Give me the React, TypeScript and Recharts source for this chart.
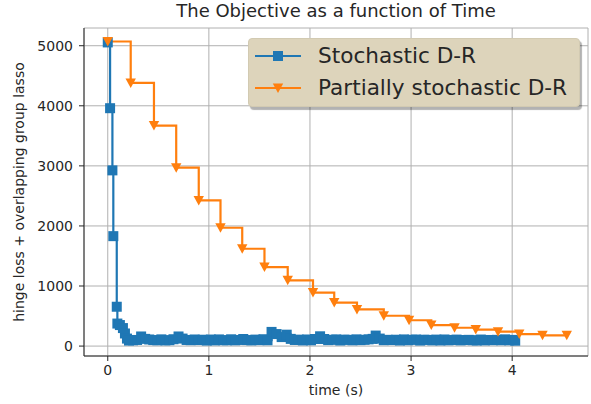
import { LineChart, Line, XAxis, YAxis, CartesianGrid } from 'recharts'

const BLUE = '#1f77b4'
const ORANGE = '#ff7f0e'
const INK = '#262626'
const FONT = '"DejaVu Sans", sans-serif'

const title = 'The Objective as a function of Time'
const xLabel = 'time (s)'
const yLabel = 'hinge loss + overlapping group lasso'
const seriesNames = ['Stochastic D-R', 'Partially stochastic D-R']

const xTicks = [0, 1, 2, 3, 4]
const yTicks = [0, 1000, 2000, 3000, 4000, 5000]

// Stochastic D-R: fast drop, then a long flat tail
const stochTime = [
  0, 0.023, 0.046, 0.055, 0.089, 0.095, 0.12, 0.15, 0.17, 0.19,
  0.21, 0.25, 0.29, 0.33, 0.37, 0.41, 0.45, 0.49, 0.53, 0.57,
  0.61, 0.65, 0.70, 0.74, 0.78, 0.82, 0.86, 0.90, 0.94, 0.98,
  1.02, 1.06, 1.10, 1.14, 1.18, 1.22, 1.26, 1.30, 1.34, 1.38,
  1.42, 1.46, 1.50, 1.54, 1.58, 1.62, 1.67, 1.72, 1.77, 1.81,
  1.85, 1.89, 1.93, 1.97, 2.01, 2.05, 2.10, 2.14, 2.18, 2.22,
  2.26, 2.30, 2.34, 2.38, 2.42, 2.46, 2.50, 2.54, 2.58, 2.62,
  2.65, 2.69, 2.73, 2.77, 2.81, 2.85, 2.89, 2.93, 2.97, 3.01,
  3.05, 3.09, 3.13, 3.17, 3.21, 3.25, 3.29, 3.33, 3.37, 3.41,
  3.45, 3.49, 3.53, 3.57, 3.61, 3.65, 3.69, 3.73, 3.77, 3.81,
  3.85, 3.89, 3.93, 3.97, 4.01, 4.03,
]
const stochValue = [
  5055, 3960, 2925, 1830, 655, 375, 350, 300, 210, 125,
  92, 96, 102, 160, 120, 110, 100, 96, 112, 95,
  98, 114, 160, 125, 102, 98, 110, 100, 106, 92,
  109, 95, 111, 98, 97, 113, 96, 102, 118, 100,
  95, 108, 99, 114, 97, 236, 200, 150, 190, 120,
  102, 107, 94, 110, 96, 118, 163, 118, 99, 105,
  111, 93, 107, 104, 96, 112, 99, 105, 112, 120,
  175, 125, 98, 104, 100, 106, 93, 111, 97, 105,
  109, 92, 106, 103, 95, 108, 94, 110, 96, 102,
  108, 95, 101, 104, 97, 93, 109, 95, 102, 98,
  104, 97, 112, 96, 103, 90,
]

// Partially stochastic D-R
const partialTime = [
  0, 0.227, 0.457, 0.677, 0.90, 1.115, 1.33, 1.55, 1.78, 2.03, 2.24,
  2.465, 2.73, 2.98, 3.20, 3.43, 3.64, 3.86, 4.07, 4.30, 4.54,
]
const partialValue = [
  5070, 4380, 3670, 2970, 2425, 1970, 1620, 1315, 1095, 890, 725,
  610, 505, 430, 350, 305, 275, 240, 200, 180, 180,
]

const stochData = stochTime.map((t, i) => ({ t, v: stochValue[i] }))
const partialData = partialTime.map((t, i) => ({ t, v: partialValue[i] }))

const X_DOMAIN = [-0.235, 4.75]
const Y_DOMAIN = [-165, 5295]

const SquareDot = (props: any) => {
  const { cx, cy, index } = props
  if (cx == null || cy == null) return null
  return <rect key={`sq-${index}`} x={cx - 5} y={cy - 5} width={10} height={10} fill={BLUE} />
}

const TriangleDot = (props: any) => {
  const { cx, cy, index } = props
  if (cx == null || cy == null) return null
  return (
    <path
      key={`tri-${index}`}
      d={`M${cx - 5.2},${cy - 4.5} L${cx + 5.2},${cy - 4.5} L${cx},${cy + 5} Z`}
      fill={ORANGE}
    />
  )
}

function LegendBox() {
  const rows = [
    { name: seriesNames[0], color: BLUE, marker: 'square' },
    { name: seriesNames[1], color: ORANGE, marker: 'tri' },
  ]
  return (
    <div
      style={{
        position: 'absolute',
        left: 248,
        top: 38,
        width: 332,
        height: 69,
        boxSizing: 'border-box',
        background: '#ddd4bb',
        border: '1px solid #d2cab2',
        borderRadius: 4,
        boxShadow: '2px 3px 1px rgba(0,0,0,0.3)',
      }}
    >
      {rows.map((r, i) => (
        <div
          key={r.name}
          style={{
            position: 'absolute',
            left: 0,
            top: i === 0 ? 1 : 33,
            height: 32,
            display: 'flex',
            alignItems: 'center',
          }}
        >
          <svg width={64} height={20} style={{ marginLeft: 5 }}>
            <line x1={1} y1={10} x2={47} y2={10} stroke={r.color} strokeWidth={2.2} />
            {r.marker === 'square' ? (
              <rect x={19} y={5} width={10} height={10} fill={r.color} />
            ) : (
              <path d="M18.8,5.5 L29.2,5.5 L24,15 Z" fill={r.color} />
            )}
          </svg>
          <span style={{ fontFamily: FONT, fontSize: 21.6, color: INK, lineHeight: '32px' }}>
            {r.name}
          </span>
        </div>
      ))}
    </div>
  )
}

export default function App() {
  return (
    <div style={{ position: 'absolute', left: 0, top: 0, width: 591, height: 404, background: '#fff' }}>
      <div
        style={{
          position: 'absolute',
          left: 84,
          width: 504,
          top: 1,
          textAlign: 'center',
          fontFamily: FONT,
          fontSize: 18,
          lineHeight: '20px',
          color: INK,
        }}
      >
        {title}
      </div>
      <LineChart
        width={591}
        height={404}
        margin={{ top: 28, right: 3, bottom: 0, left: 0 }}
        style={{ position: 'absolute', left: 0, top: 0 }}
      >
        <CartesianGrid stroke="#b0b0b0" strokeWidth={1} />
        <XAxis
          dataKey="t"
          type="number"
          domain={X_DOMAIN}
          ticks={xTicks}
          allowDataOverflow
          height={48}
          tickSize={5}
          tickMargin={4}
          stroke={INK}
          tick={{ fill: INK, fontSize: 14, fontFamily: FONT }}
          label={{ value: xLabel, position: 'insideBottom', offset: 9, style: { fill: INK, fontSize: 14, fontFamily: FONT } }}
        />
        <XAxis
          xAxisId="top"
          orientation="top"
          type="number"
          domain={X_DOMAIN}
          height={0}
          tick={false}
          tickLine={false}
          stroke={INK}
        />
        <YAxis
          type="number"
          domain={Y_DOMAIN}
          ticks={yTicks}
          allowDataOverflow
          width={84}
          tickSize={5}
          tickMargin={6}
          stroke={INK}
          tick={{ fill: INK, fontSize: 14, fontFamily: FONT }}
          label={{
            value: yLabel,
            angle: -90,
            position: 'insideLeft',
            offset: 19,
            style: { fill: INK, fontSize: 14, fontFamily: FONT, textAnchor: 'middle' },
          }}
        />
        <YAxis
          yAxisId="right"
          orientation="right"
          type="number"
          domain={Y_DOMAIN}
          width={0}
          tick={false}
          tickLine={false}
          stroke={INK}
        />
        <Line
          data={stochData}
          dataKey="v"
          name={seriesNames[0]}
          type="stepAfter"
          stroke={BLUE}
          strokeWidth={2.2}
          dot={SquareDot}
          activeDot={false}
          isAnimationActive={false}
        />
        <Line
          data={partialData}
          dataKey="v"
          name={seriesNames[1]}
          type="stepAfter"
          stroke={ORANGE}
          strokeWidth={2.2}
          dot={TriangleDot}
          activeDot={false}
          isAnimationActive={false}
        />
      </LineChart>
      <LegendBox />
    </div>
  )
}
